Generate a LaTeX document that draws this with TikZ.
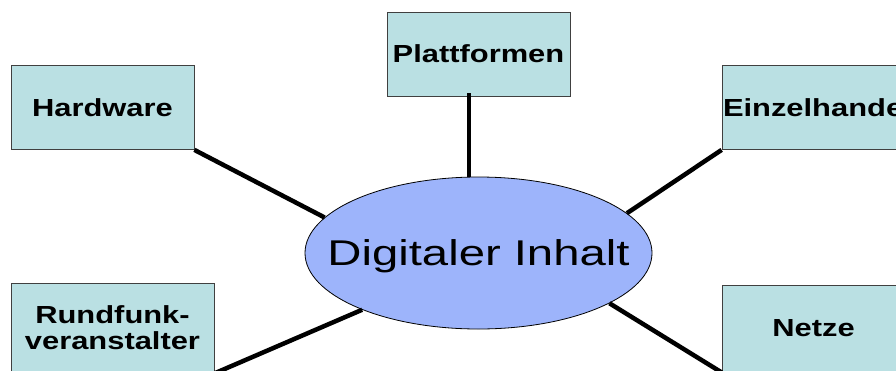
\documentclass[tikz,border=0pt]{standalone}
\usepackage{fontspec}
\newfontfamily\boxfont{Liberation Sans}[FakeStretch=1.25]
\newfontfamily\hubfont{Liberation Sans}[FakeStretch=1.32]
\usetikzlibrary{shapes.geometric}
\definecolor{boxcyan}{RGB}{186,224,227}
\definecolor{hubblue}{RGB}{157,180,251}

\begin{document}
\begin{tikzpicture}[
            x=1pt, y=-1pt,
            block/.style={rectangle, draw=black!75, fill=boxcyan, line width=0.8pt, minimum width=183pt, minimum height=84pt, inner sep=0pt, font=\boxfont\bfseries\fontsize{24.7}{26}\selectfont},
            hub/.style={ellipse, draw, fill=hubblue, line width=0.8pt, minimum width=347pt, minimum height=152pt, inner xsep=-30pt, inner ysep=0pt, text depth=0pt, font=\hubfont\fontsize{35.8}{40}\selectfont},
            link/.style={line width=4.5pt}
        ]
        \useasboundingbox (0,0) rectangle (896,370);
        \clip (0,0) rectangle (896,370);
        \node[hub] (inhalt) at (478.5,253) {Digitaler Inhalt};
        \node[block] (plat) at (478.5,54) {Plattformen};
        \node[block] (hw) at (102.5,107.5) {Hardware};
        \node[block, text width=181pt, align=left, inner xsep=1pt] (einz) at (813.5,107.5) {\mbox{Einzelhandel}};
        \node[block, minimum width=203pt, minimum height=90pt, align=center] (rund) at (112.5,328) {Rundfunk-\\veranstalter};
        \node[block, minimum height=87pt] (netze) at (813.5,328.5) {Netze};
        \draw[link] ([yshift=3pt]inhalt.97.9 |- plat.south) -- (inhalt.97.9);
        \draw[link] (hw.south east) -- (inhalt.167.9);
        \draw[link] (einz.south west) -- (inhalt.15.9);
        \draw[link] (rund.south east) -- (inhalt.206.3);
        \draw[link] (netze.south west) -- (inhalt.339.8);
        \end{tikzpicture}
\end{document}
